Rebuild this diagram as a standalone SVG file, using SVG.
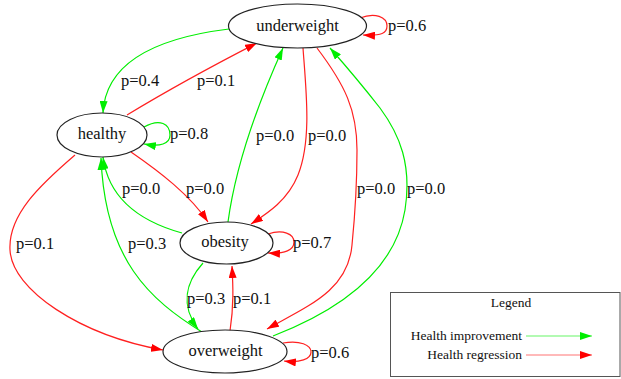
<svg xmlns="http://www.w3.org/2000/svg" width="621" height="379" viewBox="0 0 621 379">
  <style>
    .node ellipse { fill: #ffffff; stroke: #222222; stroke-width: 1.2; }
    .node text { font-family: "Liberation Serif", "Times New Roman", serif; font-size: 16.5px; fill: #111111; text-anchor: middle; }
    .edge { fill: none; stroke-width: 1.2; }
    .good { stroke: #00ee00; marker-end: url(#arrowGreen); }
    .bad { stroke: #ff2020; marker-end: url(#arrowRed); }
    .lbl { font-family: "Liberation Serif", "Times New Roman", serif; font-size: 16.5px; fill: #111111; }
    .legend text { font-family: "Liberation Serif", "Times New Roman", serif; font-size: 13.5px; fill: #111111; }
  </style>
  <defs>
    <marker id="arrowGreen" viewBox="0 0 12 8" refX="12" refY="4" markerWidth="12" markerHeight="8" markerUnits="userSpaceOnUse" orient="auto">
      <path d="M0,0 L12,4 L0,8 z" fill="#00ee00"/>
    </marker>
    <marker id="arrowRed" viewBox="0 0 12 8" refX="12" refY="4" markerWidth="12" markerHeight="8" markerUnits="userSpaceOnUse" orient="auto">
      <path d="M0,0 L12,4 L0,8 z" fill="#ff0000"/>
    </marker>
  </defs>

  <!-- transitions -->
  <g id="edges">
    <!-- underweight -> healthy -->
    <path class="edge good" d="M229,29 C180,35 106,52 103,113"/>
    <!-- healthy -> underweight -->
    <path class="edge bad" d="M127,115 C165,92 220,62 257,43"/>
    <!-- healthy self -->
    <path class="edge good" d="M144,127 C160,118 170,124 170,135 C170,144 160,147 144,144"/>
    <!-- healthy -> obesity -->
    <path class="edge bad" d="M131,152 C160,172 190,195 208,222"/>
    <!-- obesity -> healthy -->
    <path class="edge good" d="M182,233 C135,220 108,195 103,157"/>
    <!-- overweight -> healthy -->
    <path class="edge good" d="M202,332 C150,300 105,260 101,158"/>
    <!-- healthy -> overweight -->
    <path class="edge bad" d="M75,155 C40,185 8,215 10,250 C12,290 80,335 163,350"/>
    <!-- obesity -> underweight -->
    <path class="edge good" d="M228,222 C235,170 255,110 283,48"/>
    <!-- underweight -> obesity -->
    <path class="edge bad" d="M303,48 C306,90 312,140 298,175 C288,200 268,213 251,224"/>
    <!-- underweight -> overweight -->
    <path class="edge bad" d="M317,48 C345,85 357,110 357,150 C357,190 355,215 352,245 C348,290 310,305 267,329"/>
    <!-- overweight -> underweight -->
    <path class="edge good" d="M273,336 C340,310 395,270 405,210 C412,165 400,135 380,108 C362,85 345,65 330,48"/>
    <!-- underweight self -->
    <path class="edge bad" d="M360,18 C375,12 387,17 387,26 C387,33 382,36 363,35"/>
    <!-- obesity self -->
    <path class="edge bad" d="M268,234 C283,229 294,234 294,242 C294,250 285,254 268,253"/>
    <!-- obesity -> overweight -->
    <path class="edge good" d="M203,263 C186,282 180,305 198,329"/>
    <!-- overweight -> obesity -->
    <path class="edge bad" d="M230,331 C234,305 233,285 232,266"/>
    <!-- overweight self -->
    <path class="edge bad" d="M283,343 C300,340 311,345 311,352 C311,359 300,363 284,361"/>

    <text class="lbl" x="388" y="31">p=0.6</text>
    <text class="lbl" x="121" y="86">p=0.4</text>
    <text class="lbl" x="197" y="86">p=0.1</text>
    <text class="lbl" x="170" y="139">p=0.8</text>
    <text class="lbl" x="256" y="141">p=0.0</text>
    <text class="lbl" x="308" y="141">p=0.0</text>
    <text class="lbl" x="186" y="194">p=0.0</text>
    <text class="lbl" x="122" y="194">p=0.0</text>
    <text class="lbl" x="357" y="194">p=0.0</text>
    <text class="lbl" x="407" y="194">p=0.0</text>
    <text class="lbl" x="16" y="249">p=0.1</text>
    <text class="lbl" x="128" y="249">p=0.3</text>
    <text class="lbl" x="293" y="248">p=0.7</text>
    <text class="lbl" x="187" y="304">p=0.3</text>
    <text class="lbl" x="233" y="304">p=0.1</text>
    <text class="lbl" x="311" y="358">p=0.6</text>
  </g>

  <g id="underweight" class="node">
    <ellipse cx="297.5" cy="26" rx="69" ry="22"/>
    <text x="297.5" y="31">underweight</text>
  </g>
  <g id="healthy" class="node">
    <ellipse cx="102" cy="135" rx="45" ry="22"/>
    <text x="102" y="139">healthy</text>
  </g>
  <g id="obesity" class="node">
    <ellipse cx="226.5" cy="243" rx="46.5" ry="21"/>
    <text x="225" y="247">obesity</text>
  </g>
  <g id="overweight" class="node">
    <ellipse cx="225" cy="351.5" rx="62" ry="21.5"/>
    <text x="225.5" y="356">overweight</text>
  </g>

  <g id="legend" class="legend">
    <rect x="390.5" y="292.5" width="229.5" height="84" fill="#ffffff" stroke="#555555" stroke-width="1"/>
    <text x="511" y="307" text-anchor="middle">Legend</text>
    <text x="522" y="340" text-anchor="end">Health improvement</text>
    <text x="522" y="359" text-anchor="end">Health regression</text>
    <path d="M526,336 L592,336" fill="none" stroke="#00ee00" stroke-opacity="0.6" stroke-width="1.2" marker-end="url(#arrowGreen)"/>
    <path d="M526,355 L592,355" fill="none" stroke="#ff0000" stroke-opacity="0.55" stroke-width="1.2" marker-end="url(#arrowRed)"/>
  </g>
</svg>
